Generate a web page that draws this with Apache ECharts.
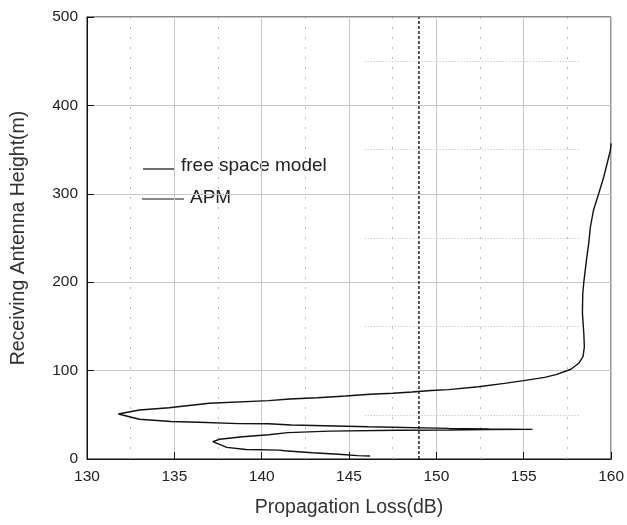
<!DOCTYPE html>
<html>
<head>
<meta charset="utf-8">
<script src="https://cdn.jsdelivr.net/npm/echarts@6/dist/echarts.min.js"></script>
<style>html,body{margin:0;padding:0;background:#fff}#c{width:627px;height:525px}</style>
</head>
<body>
<div id="c"></div>
<script>
// ---- data ----
var xTicks = [130, 135, 140, 145, 150, 155, 160];
var yTicks = [0, 100, 200, 300, 400, 500];
var freeSpaceLoss = 149;
var apmLoss = [146.2, 145.5, 144.4, 142.9, 141.3, 141.0, 139.1, 138.0, 137.2, 137.6, 138.9, 140.4, 141.5, 143.9, 147.8, 150.7, 153.0, 155.5,
  153.0, 150.7, 146.1, 141.7, 140.4, 138.7, 136.4, 134.8, 133.0, 131.8, 133.0, 134.7, 137.0, 140.4, 141.6, 143.2, 144.8, 146.2, 147.5, 148.6,
  149.7, 150.7, 152.4, 153.9, 155.0, 156.2, 156.9, 157.7, 158.15, 158.4, 158.47, 158.44, 158.36, 158.38, 158.44, 158.59, 158.72, 158.82,
  159.0, 159.29, 159.58, 159.77, 159.96, 160.0];
var apmHeight = [3.4, 3.8, 5.3, 7.1, 9.4, 10.0, 10.8, 13.2, 19.6, 22.3, 25.2, 27.5, 29.8, 31.5, 32.6, 32.8, 33.2, 33.5,
  34.0, 34.7, 36.5, 38.5, 39.8, 40.0, 41.5, 42.5, 45.0, 50.9, 55.4, 58.0, 63.0, 66.0, 67.9, 69.3, 71.3, 73.2, 74.3, 75.8,
  77.5, 78.5, 81.8, 85.6, 88.6, 92.4, 95.8, 101.5, 108.3, 116, 127, 142, 165, 187,
  200, 225, 244, 263, 282, 300, 319, 334, 349, 357];
var minorHeights = [50, 150, 250, 350, 450];
var seriesNames = ['free space model', 'APM'];

// ---- build ----
var apmData = apmLoss.map(function (v, i) { return [v, apmHeight[i]]; });
var minorLines = minorHeights.map(function (h) { return [{coord: [145.9, h]}, {coord: [158.2, h]}]; });
var FONT = "'Liberation Sans', Arial, sans-serif";

var chart = echarts.init(document.getElementById('c'));
chart.setOption({
  animation: false,
  backgroundColor: '#fff',
  grid: {left: 87, right: 13, top: 17, bottom: 66, show: true, borderColor: '#111', borderWidth: 1, backgroundColor: 'transparent'},
  xAxis: {
    type: 'value', min: xTicks[0], max: xTicks[xTicks.length - 1], interval: 5,
    name: 'Propagation Loss(dB)', nameLocation: 'middle', nameGap: 39,
    nameTextStyle: {fontFamily: FONT, fontSize: 19.5, color: '#333'},
    axisLine: {show: true, lineStyle: {color: '#111', width: 1}},
    axisTick: {show: true, inside: true, length: 7, lineStyle: {color: '#111'}},
    axisLabel: {fontFamily: FONT, fontSize: 15.5, color: '#222', margin: 10},
    splitLine: {show: true, lineStyle: {color: '#c8c8c8', width: 1}},
    minorTick: {show: false, splitNumber: 2},
    minorSplitLine: {show: true, lineStyle: {color: '#bbb', width: 1, type: [2, 8]}}
  },
  yAxis: {
    type: 'value', min: yTicks[0], max: yTicks[yTicks.length - 1], interval: 100,
    name: 'Receiving Antenna Height(m)', nameLocation: 'middle', nameGap: 58, nameRotate: 90,
    nameTextStyle: {fontFamily: FONT, fontSize: 19.5, color: '#333'},
    axisLine: {show: true, lineStyle: {color: '#111', width: 1}},
    axisTick: {show: true, inside: true, length: 7, lineStyle: {color: '#111'}},
    axisLabel: {fontFamily: FONT, fontSize: 15.5, color: '#222', margin: 9},
    splitLine: {show: true, lineStyle: {color: '#c8c8c8', width: 1}}
  },
  series: [
    {
      name: seriesNames[0], type: 'line', symbol: 'none', silent: true,
      data: [[freeSpaceLoss, yTicks[0]], [freeSpaceLoss, yTicks[yTicks.length - 1]]],
      lineStyle: {color: '#222', width: 1.5, type: [3, 2]},
      markLine: {
        silent: true, symbol: 'none', label: {show: false},
        lineStyle: {color: '#bbb', width: 1, type: [1, 2]},
        data: minorLines
      },
      z: 3
    },
    {
      name: seriesNames[1], type: 'line', symbol: 'none', silent: true,
      data: apmData,
      lineStyle: {color: '#111', width: 1.4},
      z: 4
    }
  ],
  graphic: [
    {type: 'line', shape: {x1: 143, y1: 169, x2: 174, y2: 169}, style: {stroke: '#111', lineWidth: 1.2}},
    {type: 'text', left: 181, top: 156, style: {text: seriesNames[0], font: '19px ' + FONT, fill: '#222'}},
    {type: 'line', shape: {x1: 142, y1: 199, x2: 184, y2: 199}, style: {stroke: '#111', lineWidth: 1.2}},
    {type: 'text', left: 190, top: 188, style: {text: seriesNames[1], font: '19px ' + FONT, fill: '#222'}}
  ]
});
</script>
</body>
</html>
